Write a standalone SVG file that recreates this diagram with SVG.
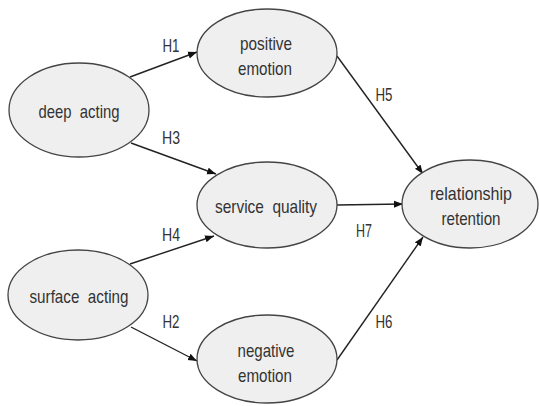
<svg xmlns="http://www.w3.org/2000/svg" width="539" height="406" viewBox="0 0 539 406">
<defs>
<marker id="ah" markerUnits="userSpaceOnUse" markerWidth="10" markerHeight="8" refX="9" refY="4" orient="auto">
<path d="M0,0.5 L9,4 L0,7.5 Z" fill="#111"/>
</marker>
<style>
.n ellipse{fill:#efefef;stroke:#444;stroke-width:1.3}
text{font-family:"Liberation Sans",Arial,sans-serif;font-size:19px;fill:#333;text-anchor:middle;white-space:pre}
.e line{stroke:#222;stroke-width:1.4;marker-end:url(#ah)}
</style>
</defs>
<rect width="539" height="406" fill="#fff"/>
<g class="e" id="connectors">
<line x1="130" y1="77" x2="197" y2="52"/>
<line x1="131" y1="143" x2="216" y2="174"/>
<line x1="337" y1="56" x2="423" y2="174"/>
<line x1="337" y1="205" x2="403" y2="204"/>
<line x1="337" y1="360" x2="423" y2="237"/>
<line x1="130" y1="264" x2="214" y2="236"/>
<line x1="131" y1="327" x2="197" y2="361"/>
<text x="171" y="52" textLength="17" lengthAdjust="spacingAndGlyphs">H1</text>
<text x="171" y="144" textLength="18" lengthAdjust="spacingAndGlyphs">H3</text>
<text x="384" y="101" textLength="17" lengthAdjust="spacingAndGlyphs">H5</text>
<text x="171" y="241" textLength="18" lengthAdjust="spacingAndGlyphs">H4</text>
<text x="171" y="328" textLength="17" lengthAdjust="spacingAndGlyphs">H2</text>
<text x="364" y="237" textLength="16" lengthAdjust="spacingAndGlyphs">H7</text>
<text x="384" y="328" textLength="17" lengthAdjust="spacingAndGlyphs">H6</text>
</g>
<g class="n" id="deep-acting">
<ellipse cx="79" cy="110" rx="70" ry="47"/>
<text x="79" y="118" textLength="81" lengthAdjust="spacingAndGlyphs">deep  acting</text>
</g>
<g class="n" id="positive-emotion">
<ellipse cx="267" cy="53" rx="70" ry="44"/>
<text x="266" y="50" textLength="52" lengthAdjust="spacingAndGlyphs">positive</text>
<text x="265" y="75" textLength="54" lengthAdjust="spacingAndGlyphs">emotion</text>
</g>
<g class="n" id="service-quality">
<ellipse cx="267" cy="205" rx="70" ry="43"/>
<text x="266" y="213" textLength="102" lengthAdjust="spacingAndGlyphs">service  quality</text>
</g>
<g class="n" id="surface-acting">
<ellipse cx="78" cy="295" rx="70" ry="45"/>
<text x="79" y="303" textLength="99" lengthAdjust="spacingAndGlyphs">surface  acting</text>
</g>
<g class="n" id="negative-emotion">
<ellipse cx="267" cy="359" rx="70" ry="44"/>
<text x="266" y="357" textLength="57" lengthAdjust="spacingAndGlyphs">negative</text>
<text x="265" y="382" textLength="54" lengthAdjust="spacingAndGlyphs">emotion</text>
</g>
<g class="n" id="relationship-retention">
<ellipse cx="470" cy="204" rx="68" ry="44"/>
<text x="471" y="200" textLength="82" lengthAdjust="spacingAndGlyphs">relationship</text>
<text x="471" y="225" textLength="59" lengthAdjust="spacingAndGlyphs">retention</text>
</g>
</svg>
